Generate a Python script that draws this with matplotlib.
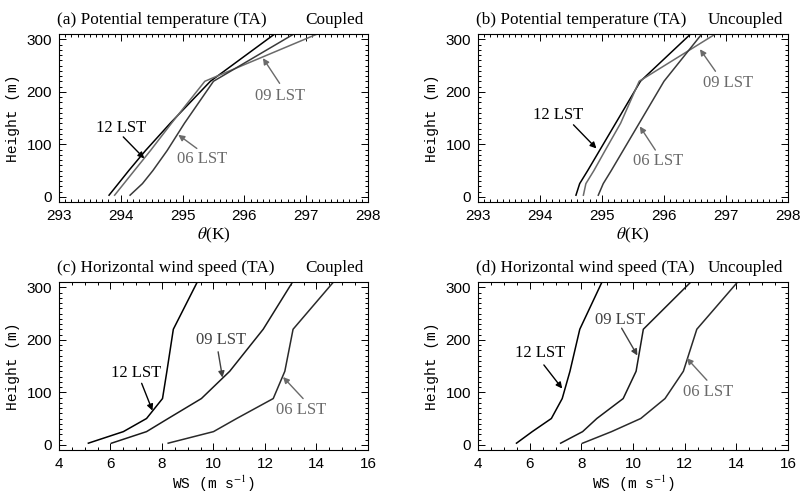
import matplotlib
matplotlib.use("Agg")
import matplotlib.pyplot as plt
from matplotlib import ticker

plt.rcParams["font.family"] = ["Liberation Serif", "DejaVu Serif"]
plt.rcParams["mathtext.fontset"] = "stix"

# heights of the profile levels (m)
height = [3, 25, 50, 88, 140, 220, 310]

# potential temperature (K), coupled case
theta_cpl_12 = [293.81, 293.96, 294.13, 294.40, 294.80, 295.45, 296.49]
theta_cpl_09 = [293.90, 294.05, 294.22, 294.48, 294.82, 295.36, 297.18]
theta_cpl_06 = [294.15, 294.35, 294.52, 294.75, 295.03, 295.50, 296.80]

# potential temperature (K), uncoupled case
theta_unc_12 = [294.58, 294.64, 294.77, 294.96, 295.22, 295.62, 296.43]
theta_unc_09 = [294.70, 294.74, 294.87, 295.05, 295.30, 295.60, 296.83]
theta_unc_06 = [294.94, 295.02, 295.15, 295.34, 295.60, 296.00, 296.61]

# wind speed (m/s), coupled case
ws_cpl_12 = [5.14, 6.50, 7.40, 8.02, 8.19, 8.44, 9.37]
ws_cpl_09 = [6.04, 7.40, 8.24, 9.53, 10.63, 11.93, 13.07]
ws_cpl_06 = [8.24, 10.00, 10.90, 12.32, 12.77, 13.09, 14.66]

# wind speed (m/s), uncoupled case
ws_unc_12 = [5.49, 6.10, 6.84, 7.26, 7.56, 7.94, 8.80]
ws_unc_09 = [7.20, 8.05, 8.60, 9.62, 10.12, 10.40, 12.24]
ws_unc_06 = [8.05, 9.17, 10.30, 11.24, 11.95, 12.47, 14.05]

labels = ["12 LST", "09 LST", "06 LST"]

fig = plt.figure(figsize=(8.04, 4.96), dpi=100)

left_cols = (59 / 804, (368 - 59) / 804)
right_cols = (478 / 804, (788 - 478) / 804)
top_row = (1 - 202 / 496, 168 / 496)
bot_row = (1 - 450 / 496, 168 / 496)

panels = [
    dict(pos=(left_cols[0], top_row[0], left_cols[1], top_row[1]),
         title="(a) Potential temperature (TA)", case="Coupled",
         series=[theta_cpl_12, theta_cpl_09, theta_cpl_06],
         colors=["black", "#6a6a6a", "#3a3a3a"],
         txt_colors=["black", "#6a6a6a", "#6a6a6a"],
         xlim=(293, 298), major=1, minor=10, xlabel=r"$\theta$(K)",
         notes=[((294.01, 130), (294.04, 114), (294.38, 73)),
                ((296.57, 191), (296.57, 216), (296.30, 264)),
                ((295.31, 71), (295.23, 92), (294.93, 118))]),
    dict(pos=(right_cols[0], top_row[0], right_cols[1], top_row[1]),
         title="(b) Potential temperature (TA)", case="Uncoupled",
         series=[theta_unc_12, theta_unc_09, theta_unc_06],
         colors=["black", "#6a6a6a", "#3a3a3a"],
         txt_colors=["black", "#6a6a6a", "#6a6a6a"],
         xlim=(293, 298), major=1, minor=10, xlabel=r"$\theta$(K)",
         notes=[((294.29, 156), (294.54, 137), (294.91, 92)),
                ((297.04, 216), (296.83, 239), (296.58, 281)),
                ((295.91, 69), (295.86, 89), (295.61, 134))]),
    dict(pos=(left_cols[0], bot_row[0], left_cols[1], bot_row[1]),
         title="(c) Horizontal wind speed (TA)", case="Coupled",
         series=[ws_cpl_12, ws_cpl_09, ws_cpl_06],
         colors=["black", "#1a1a1a", "#2a2a2a"],
         txt_colors=["black", "#404040", "#6a6a6a"],
         xlim=(4, 16), major=2, minor=4, xlabel=r"WS (m s$^{-1}$)",
         notes=[((6.99, 136), (7.21, 117), (7.63, 65)),
                ((10.31, 200), (10.18, 177), (10.35, 128)),
                ((13.41, 66), (13.48, 88), (12.70, 129))]),
    dict(pos=(right_cols[0], bot_row[0], right_cols[1], bot_row[1]),
         title="(d) Horizontal wind speed (TA)", case="Uncoupled",
         series=[ws_unc_12, ws_unc_09, ws_unc_06],
         colors=["black", "#1a1a1a", "#2a2a2a"],
         txt_colors=["black", "#404040", "#6a6a6a"],
         xlim=(4, 16), major=2, minor=4, xlabel=r"WS (m s$^{-1}$)",
         notes=[((6.39, 174), (6.55, 152), (7.26, 107)),
                ((9.50, 238), (9.56, 222), (10.17, 170)),
                ((12.92, 101), (12.86, 123), (12.08, 165))]),
]

for p in panels:
    ax = fig.add_axes(p["pos"])
    for vals, c in zip(p["series"], p["colors"]):
        ax.plot(vals, height, color=c, lw=1.1, clip_on=True)

    for lab, (txt, start, tip), tc in zip(labels, p["notes"], p["txt_colors"]):
        ax.text(txt[0], txt[1], lab, color=tc, fontsize=12,
                ha="center", va="center")
        ax.annotate("", xy=tip, xytext=start,
                    arrowprops=dict(arrowstyle="-|>", color=tc, lw=1.0,
                                    mutation_scale=9, shrinkA=0, shrinkB=0))

    ax.set_xlim(*p["xlim"])
    ax.set_ylim(-10, 310)
    ax.xaxis.set_major_locator(ticker.MultipleLocator(p["major"]))
    ax.xaxis.set_minor_locator(ticker.AutoMinorLocator(p["minor"]))
    ax.yaxis.set_major_locator(ticker.MultipleLocator(100))
    ax.yaxis.set_minor_locator(ticker.AutoMinorLocator(10))
    ax.tick_params(which="both", direction="in", top=True, right=True,
                   width=0.7)
    ax.tick_params(which="major", length=5, labelsize=11, pad=5)
    ax.tick_params(which="minor", length=2.5)
    for lbl in ax.get_xticklabels() + ax.get_yticklabels():
        lbl.set_family("Liberation Sans")
    for s in ax.spines.values():
        s.set_linewidth(0.8)

    ax.set_ylabel("Height (m)", fontsize=10.5, labelpad=5,
                  family="Liberation Mono")
    if p["xlabel"].startswith("WS"):
        ax.set_xlabel(p["xlabel"], fontsize=10.5, labelpad=2,
                      family="Liberation Mono")
    else:
        ax.set_xlabel(p["xlabel"], fontsize=12.5, labelpad=2)
    ax.set_title(p["title"], loc="left", fontsize=12.4, pad=7, x=-0.005)
    ax.set_title(p["case"], loc="right", fontsize=12.4, pad=7, x=0.985)

fig.savefig("out.png", dpi=100)
